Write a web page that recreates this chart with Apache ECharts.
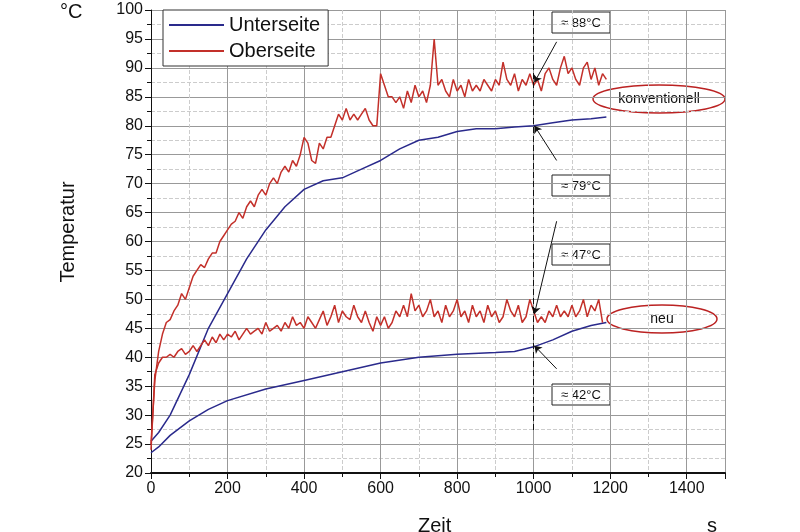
<!DOCTYPE html><html><head><meta charset="utf-8"><script src="https://cdn.jsdelivr.net/npm/echarts@6/dist/echarts.min.js"></script>
<style>html,body{margin:0;background:#fff}#c{width:800px;height:532px}</style></head><body><div id="c"></div><script>
const convTopT = Array.from({length:120},(_,i)=>i*10);
const convTop = [25,36,41,44,46,46.5,48,49,51,50,52,54,55,56,55.5,57,58,58,60,61,62,63,63.5,65,64,66,67,66,68,69,68,70,71,70,72,73,72,74,73,75,78,77,74,73.5,77,76,78,78,80,82,81,83,81,82,81,82,83,81,80,80,89,87,85,85,84,85,83,86,84,87,85,86,84,87,95,87,88,86,85,88,86,87,85,88,86,87,86,88,87,86,88,87,91,88,87,89,86,88,87,89,87,88,86,89,90,88,87,90,92,89,90,88,87,90,91,88,90,87,89,88];
const newTopT = Array.from({length:119},(_,i)=>i*10);
const newTop = [24,37,39,40,40,40.5,40,41,41.5,40.5,41,42,41,42,43,42,43.5,42.5,44,43,44,43.5,44.5,43,44,45,44,44.5,45,44,46,44.5,45,45.5,44.5,46,45,47,45.5,46,45,47,46,45,46.5,48,45.5,47,49,46,48,47,46.5,49,47,46,48,46,44.5,47,45.5,47,45,46,48,47,49,47,51,48,49,47,48,50,47,48,46,49,47,48,50,47,48,46,49,47,48,46,49,47,48,46,47,50,48,47,49,46,47,50,48,46,47,46,48,47,49,47,48,47,49,47,48,50,47,49,48,50,46];
const convBotT = [0,20,50,100,150,200,250,300,350,400,450,500,550,600,650,700,750,800,850,900,950,1000,1050,1100,1150,1190];
const convBot = [25.5,27,30,37,45,51,57,62,66,69,70.5,71,72.5,74,76,77.5,78,79,79.5,79.5,79.8,80,80.5,81,81.2,81.5];
const newBotT = [0,20,50,100,150,200,300,400,500,600,700,800,900,950,1000,1050,1100,1150,1190];
const newBot = [23.5,24.5,26.5,29,31,32.5,34.5,36,37.5,39,40,40.5,40.8,41,41.8,43,44.5,45.5,46];
const BLUE='#2a2a8c', RED='#c3302a';
const z=(t,v)=>t.map((x,i)=>[x,v[i]]);
const arrow=(a,b)=>[{coord:a},{coord:b}];
const ch=echarts.init(document.getElementById('c'));
const F='Liberation Sans, Arial, sans-serif';
ch.setOption({
 animation:false,
 grid:{left:151,right:75,top:10,bottom:59},
 legend:{left:163,top:10,orient:'vertical',itemWidth:55,itemHeight:2,itemGap:6,padding:[5,8,5,6],
  borderColor:'#333',borderWidth:1,backgroundColor:'#fff',data:[{name:'Unterseite',icon:'rect'},{name:'Oberseite',icon:'rect'}],
  textStyle:{fontSize:20,fontFamily:F,color:'#111'}},
 xAxis:{type:'value',min:0,max:1500,interval:200,
  axisLine:{lineStyle:{color:'#111',width:2}},axisTick:{length:6,lineStyle:{color:'#111'}},
  minorTick:{show:true,splitNumber:2,length:4},
  axisLabel:{fontSize:16,fontFamily:F,color:'#111',showMaxLabel:false,formatter:v=>String(v)},
  splitLine:{lineStyle:{color:'#999',width:1}},minorSplitLine:{show:true,lineStyle:{color:'#ccc',type:'dashed'}}},
 yAxis:{type:'value',min:20,max:100,interval:5,
  axisLine:{show:true,lineStyle:{color:'#111',width:1}},axisTick:{show:true,length:6,lineStyle:{color:'#111'}},
  minorTick:{show:true,splitNumber:2,length:4},
  axisLabel:{fontSize:16,fontFamily:F,color:'#111'},
  splitLine:{lineStyle:{color:'#999',width:1}},minorSplitLine:{show:true,lineStyle:{color:'#ccc',type:'dashed'}}},
 series:[
  {name:'Unterseite',type:'line',showSymbol:false,data:z(convBotT,convBot),lineStyle:{color:BLUE,width:1.5},itemStyle:{color:BLUE}},
  {name:'Unterseite',type:'line',showSymbol:false,data:z(newBotT,newBot),lineStyle:{color:BLUE,width:1.5},itemStyle:{color:BLUE}},
  {name:'Oberseite',type:'line',showSymbol:false,data:z(convTopT,convTop),lineStyle:{color:RED,width:1.5},itemStyle:{color:RED}},
  {name:'Oberseite',type:'line',showSymbol:false,data:z(newTopT,newTop),lineStyle:{color:RED,width:1.5},itemStyle:{color:RED},
   markLine:{silent:true,symbol:['none','arrow'],symbolSize:7,label:{show:false},lineStyle:{color:'#111',width:1,type:'solid'},
    data:[
     [{coord:[1000,100],symbol:'none',lineStyle:{type:[6,3]}},{coord:[1000,27],symbol:'none'}],
     arrow([1060,94.5],[1002,87.5]),
     arrow([1060,74],[1002,80]),
     arrow([1060,63.5],[1002,47.5]),
     arrow([1060,38],[1002,42])
    ]}}
 ],
 graphic:[
  {type:'text',left:60,top:2,style:{text:'°C',fontSize:20,fontFamily:F,fill:'#111'}},
  {type:'text',x:68,y:232,rotation:Math.PI/2,style:{text:'Temperatur',fontSize:20,fontFamily:F,fill:'#111',align:'center',verticalAlign:'middle'}},
  {type:'text',left:418,top:516,style:{text:'Zeit',fontSize:20,fontFamily:F,fill:'#111'}},
  {type:'text',left:707,top:516,style:{text:'s',fontSize:20,fontFamily:F,fill:'#111'}},
  ...[['≈ 88°C',12],['≈ 79°C',175],['≈ 47°C',244],['≈ 42°C',384]].map(([t,y])=>({type:'group',x:552,y:y,children:[
   {type:'rect',shape:{x:0,y:0,width:58,height:21},style:{fill:'#fff',stroke:'#222',lineWidth:1}},
   {type:'text',x:29,y:11,style:{text:t,fontSize:13,fontFamily:F,fill:'#111',align:'center',verticalAlign:'middle'}}]})),
  {type:'group',x:593,y:85,children:[
   {type:'ellipse',shape:{cx:66,cy:14,rx:66,ry:14},style:{fill:'#fff',stroke:'#b22',lineWidth:1.5}},
   {type:'text',x:66,y:14,style:{text:'konventionell',fontSize:14,fontFamily:F,fill:'#111',align:'center',verticalAlign:'middle'}}]},
  {type:'group',x:607,y:305,children:[
   {type:'ellipse',shape:{cx:55,cy:14,rx:55,ry:14},style:{fill:'#fff',stroke:'#b22',lineWidth:1.5}},
   {type:'text',x:55,y:14,style:{text:'neu',fontSize:14,fontFamily:F,fill:'#111',align:'center',verticalAlign:'middle'}}]}
 ]
});
</script></body></html>
